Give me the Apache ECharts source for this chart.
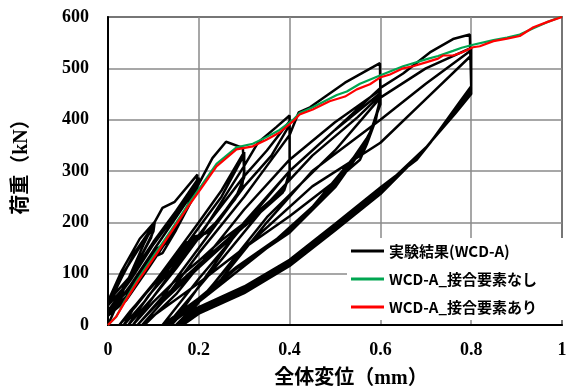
<!DOCTYPE html>
<html>
<head>
<meta charset="utf-8">
<script src="https://cdn.jsdelivr.net/npm/echarts@6/dist/echarts.min.js"></script>
<style>
html,body{margin:0;padding:0;background:#fff;}
#chart{width:566px;height:392px;}
</style>
</head>
<body>
<div id="chart"></div>
<script>
// ---- data (displacement mm, load kN) ----
const seriesNames = ['実験結果(WCD-A)', 'WCD-A_接合要素なし', 'WCD-A_接合要素あり'];
const xTicks = [0, 0.2, 0.4, 0.6, 0.8, 1];
const yTicks = [0, 100, 200, 300, 400, 500, 600];

const cycle01 = [
  [0,0],[0.02,40],[0.05,100],[0.08,160],[0.103,201],
  [0.1,182],[0.07,128],[0.04,78],[0,38],
  [0.03,92],[0.06,143],[0.1,194],
  [0.097,176],[0.06,112],[0.03,66],[0,42],
  [0.03,96],[0.07,152],[0.1,189],
  [0.095,170],[0.05,96],[0,46]
];
const cycle02 = [
  [0.03,105],[0.07,168],[0.103,201],[0.12,228],[0.147,240],[0.197,293],
  [0.195,268],[0.16,205],[0.13,160],[0.11,150],[0.08,110],[0.04,55],[0,22],
  [0.04,82],[0.1,162],[0.15,222],[0.2,287],
  [0.196,262],[0.15,185],[0.12,140],[0.09,128],[0.05,72],[0,28],
  [0.05,88],[0.1,157],[0.15,216],[0.2,282],
  [0.19,252],[0.14,178],[0.09,112],[0.04,48],[0,18]
];
const cycle03 = [
  [0.05,78],[0.1,145],[0.15,210],[0.2,275],[0.23,325],[0.26,357],[0.297,345],
  [0.3,300],[0.295,268],[0.26,225],[0.22,180],[0.19,172],[0.15,125],[0.1,78],[0.05,28],[0.025,0],
  [0.06,35],[0.1,80],[0.15,140],[0.2,200],[0.25,262],[0.3,337],
  [0.3,295],[0.29,258],[0.25,210],[0.2,168],[0.17,160],[0.12,102],[0.06,38],[0.035,0],
  [0.08,45],[0.13,105],[0.2,190],[0.25,250],[0.3,332],
  [0.3,288],[0.28,245],[0.22,180],[0.19,170],[0.15,118],[0.09,58],[0.045,0]
];
const cycle04 = [
  [0.1,55],[0.15,110],[0.2,170],[0.25,240],[0.3,310],[0.33,355],[0.37,385],[0.4,408],
  [0.4,300],[0.39,268],[0.37,252],[0.3,198],[0.25,165],[0.2,125],[0.15,88],[0.1,45],[0.055,0],
  [0.1,55],[0.2,175],[0.3,290],[0.35,340],[0.4,397],
  [0.4,295],[0.388,262],[0.35,235],[0.28,180],[0.2,118],[0.12,52],[0.065,0],
  [0.12,55],[0.2,150],[0.3,270],[0.36,330],[0.4,390],
  [0.4,290],[0.385,258],[0.3,192],[0.2,112],[0.12,45],[0.075,0]
];
const cycle06 = [
  [0.12,45],[0.2,140],[0.3,250],[0.35,310],[0.4,370],[0.42,414],[0.445,424],[0.522,472],[0.599,510],
  [0.6,445],[0.59,400],[0.57,352],[0.555,322],[0.5,280],[0.4,212],[0.3,150],[0.2,82],[0.1,18],[0.08,0],
  [0.15,60],[0.25,170],[0.3,225],[0.4,322],[0.5,395],[0.6,458],
  [0.6,440],[0.585,390],[0.56,340],[0.5,275],[0.4,185],[0.283,113],[0.2,52],[0.12,0],
  [0.2,90],[0.3,195],[0.4,300],[0.5,380],[0.6,452],
  [0.6,435],[0.58,380],[0.55,330],[0.5,268],[0.4,180],[0.28,108],[0.2,48],[0.13,0],
  [0.22,95],[0.35,235],[0.45,330],[0.55,405],[0.6,448],
  [0.6,430],[0.575,370],[0.54,325],[0.45,230],[0.35,150],[0.25,80],[0.15,10],[0.14,0]
];
const cycle08 = [
  [0.2,75],[0.3,200],[0.4,300],[0.5,380],[0.6,462],[0.65,490],[0.709,531],[0.76,557],[0.797,566],
  [0.8,465],[0.775,435],[0.71,355],[0.68,322],[0.6,268],[0.5,197],[0.4,127],[0.3,75],[0.2,35],[0.15,0],
  [0.25,90],[0.35,200],[0.45,300],[0.6,400],[0.7,470],[0.8,535],
  [0.8,460],[0.773,428],[0.705,350],[0.6,262],[0.5,192],[0.4,122],[0.3,70],[0.2,30],[0.155,0],
  [0.3,150],[0.45,270],[0.6,355],[0.7,440],[0.8,525],
  [0.8,455],[0.77,420],[0.7,345],[0.6,258],[0.5,188],[0.4,118],[0.3,66],[0.2,26],[0.16,0],
  [0.35,210],[0.5,340],[0.6,443],[0.7,500],[0.8,540],
  [0.8,450],[0.765,412],[0.69,335],[0.6,255],[0.5,184],[0.4,115],[0.3,62],[0.2,22],[0.165,0]
];
const experiment = [].concat(cycle01, cycle02, cycle03, cycle04, cycle06, cycle08);

const noJoint = [
  [0,0],[0.018,16],[0.036,45],[0.065,88],[0.103,138],[0.14,186],[0.176,234],[0.206,272],
  [0.239,314],[0.283,346],[0.319,353],[0.349,366],[0.378,380],[0.408,400],[0.422,413],
  [0.451,424],[0.504,448],[0.526,455],[0.555,470],[0.599,486],[0.621,494],[0.65,504],
  [0.672,510],[0.702,518],[0.727,524],[0.76,534],[0.779,540],[0.804,546],[0.849,555],
  [0.879,560],[0.907,566],[0.937,578],[0.967,590],[1,601]
];
const withJoint = [
  [0,0],[0.018,16],[0.036,43],[0.065,84],[0.103,133],[0.14,182],[0.176,230],[0.206,267],
  [0.239,309],[0.283,342],[0.319,348],[0.349,361],[0.378,375],[0.408,397],[0.422,410],
  [0.451,420],[0.488,436],[0.522,445],[0.548,459],[0.577,469],[0.599,482],[0.621,488],
  [0.65,500],[0.672,504],[0.702,512],[0.727,519],[0.738,525],[0.76,525],[0.779,531],
  [0.804,541],[0.819,543],[0.849,553],[0.879,558],[0.907,563],[0.937,580],[0.967,590],[1,600]
];

const serifFont = "'Liberation Serif', 'Noto Sans CJK JP', serif";
const chart = echarts.init(document.getElementById('chart'), null, {renderer: 'canvas'});
chart.setOption({
  animation: false,
  backgroundColor: '#fff',
  grid: {
    left: 108, right: 4, top: 17, bottom: 67,
    containLabel: false, outerBoundsMode: 'none',
    show: true, borderColor: '#000', borderWidth: 1.5, backgroundColor: 'transparent'
  },
  xAxis: {
    type: 'value', min: xTicks[0], max: xTicks[xTicks.length - 1], interval: 0.2,
    name: '全体変位（mm）', nameLocation: 'middle', nameGap: 44,
    nameTextStyle: {fontFamily: serifFont, fontWeight: 'bold', fontSize: 20, color: '#000', padding: [0, 0, 0, 32]},
    axisLine: {show: true, lineStyle: {color: '#000', width: 2}},
    axisTick: {show: false},
    axisLabel: {margin: 16, fontFamily: serifFont, fontWeight: 'bold', fontSize: 18, color: '#000',
      formatter: v => String(Math.round(v * 10) / 10)},
    splitLine: {show: true, lineStyle: {color: '#8a8a8a', width: 1.5}}
  },
  yAxis: {
    type: 'value', min: yTicks[0], max: yTicks[yTicks.length - 1], interval: 100,
    name: '荷重（kN）', nameLocation: 'middle', nameGap: 76, nameRotate: 90,
    nameTextStyle: {fontFamily: serifFont, fontWeight: 'bold', fontSize: 20, color: '#000', padding: [0, 0, 0, 18]},
    axisLine: {show: true, lineStyle: {color: '#000', width: 2}},
    axisTick: {show: false},
    axisLabel: {margin: 19, fontFamily: serifFont, fontWeight: 'bold', fontSize: 18, color: '#000'},
    splitLine: {show: true, lineStyle: {color: '#8a8a8a', width: 1.5}}
  },
  legend: {
    orient: 'vertical', left: 347, top: 238,
    padding: [5, 30, 5, 4], itemGap: 12,
    backgroundColor: '#fff',
    itemWidth: 33, itemHeight: 3, icon: 'rect',
    textStyle: {fontFamily: "'Noto Sans CJK JP', sans-serif", fontWeight: 'bold', fontSize: 15, lineHeight: 16, color: '#000'},
    data: seriesNames
  },
  series: [
    {name: seriesNames[0], type: 'line', data: experiment, showSymbol: false, symbol: 'none',
      lineStyle: {color: '#000', width: 2.5}, itemStyle: {color: '#000'}, z: 2},
    {name: seriesNames[1], type: 'line', data: noJoint, showSymbol: false, symbol: 'none',
      lineStyle: {color: '#00a651', width: 2.2}, itemStyle: {color: '#00a651'}, z: 3},
    {name: seriesNames[2], type: 'line', data: withJoint, showSymbol: false, symbol: 'none',
      lineStyle: {color: '#ff0000', width: 2.2}, itemStyle: {color: '#ff0000'}, z: 4}
  ]
});
</script>
</body>
</html>
